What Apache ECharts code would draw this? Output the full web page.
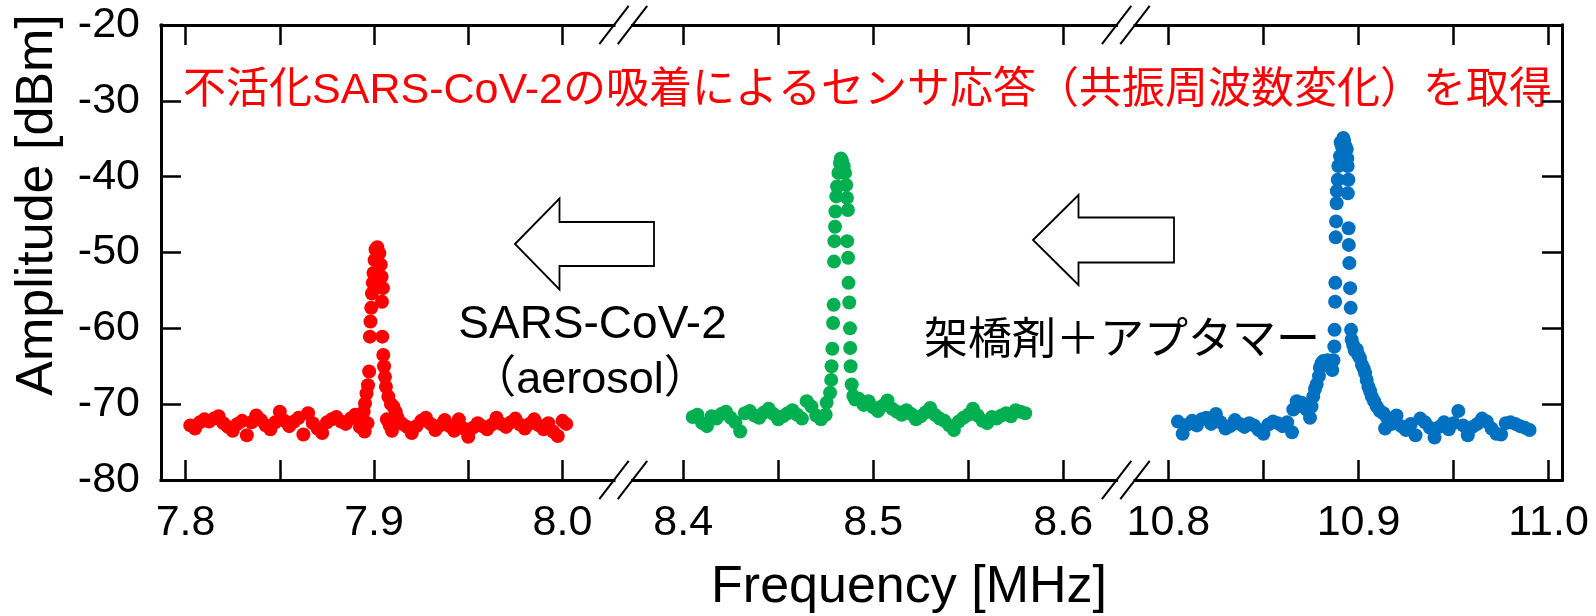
<!DOCTYPE html>
<html>
<head>
<meta charset="utf-8">
<script src="https://cdn.jsdelivr.net/npm/echarts@6/dist/echarts.min.js"></script>
<style>
html, body { margin: 0; padding: 0; background: #ffffff; }
#chart { width: 1596px; height: 616px; }
</style>
</head>
<body>
<div id="chart"></div>
<script>
// 不活化SARS-CoV-2 (赤)
const redFreq = [
  7.8025, 7.8050, 7.8075, 7.8100, 7.8125, 7.8150, 7.8175, 7.8200, 7.8225, 7.8250,
  7.8275, 7.8300, 7.8325, 7.8350, 7.8375, 7.8400, 7.8425, 7.8450, 7.8475, 7.8500,
  7.8525, 7.8550, 7.8575, 7.8600, 7.8625, 7.8650, 7.8675, 7.8700, 7.8725, 7.8750,
  7.8775, 7.8800, 7.8825, 7.8850, 7.8875, 7.8900, 7.8925,
  7.8940, 7.8945, 7.8950, 7.8952, 7.8960, 7.8965, 7.8968, 7.8974, 7.8978, 7.8981,
  7.8985, 7.8989, 7.8993, 7.8997, 7.9003, 7.9008, 7.9017, 7.9028, 7.9036, 7.9040,
  7.9042, 7.9044, 7.9047, 7.9049, 7.9053, 7.9058, 7.9063, 7.9068, 7.9076, 7.9083,
  7.9090, 7.9095, 7.9102, 7.9115,
  7.9125, 7.9150, 7.9175, 7.9200, 7.9225, 7.9250, 7.9275, 7.9300, 7.9325, 7.9350,
  7.9375, 7.9400, 7.9425, 7.9450, 7.9475, 7.9500, 7.9525, 7.9550, 7.9575, 7.9600,
  7.9625, 7.9650, 7.9675, 7.9700, 7.9725, 7.9750, 7.9775, 7.9800, 7.9825, 7.9850,
  7.9875, 7.9900, 7.9925, 7.9950, 7.9975, 8.0000, 8.0020
];
const redAmp = [
  -72.8, -73.2, -72.4, -72.0, -72.3, -71.9, -71.6, -72.5, -73.0, -73.5,
  -72.6, -72.2, -74.1, -72.4, -71.5, -72.1, -72.8, -73.3, -72.4, -71.0,
  -72.2, -72.9, -72.3, -71.8, -74.0, -71.2, -72.5, -73.2, -73.8, -72.4,
  -72.0, -71.7, -72.3, -72.6, -71.9, -71.4, -73.0,
  -72.0, -71.0, -73.6, -69.9, -68.6, -72.5, -67.5, -65.7, -61.1, -59.1,
  -57.3, -55.4, -54.0, -52.7, -51.0, -49.6, -49.3, -50.1, -51.6, -53.2,
  -56.5, -61.1, -54.7, -63.5, -65.0, -66.4, -67.7, -72.0, -69.0, -72.8,
  -70.0, -73.5, -70.3, -71.0,
  -71.8, -72.6, -73.0, -73.8, -72.9, -72.2, -71.8, -72.6, -73.4, -72.8,
  -72.1, -72.9, -73.5, -72.0, -73.2, -74.3, -73.1, -72.5, -72.9, -73.3,
  -72.7, -71.8, -72.6, -73.0, -72.4, -71.9, -72.7, -73.2, -72.6, -72.0,
  -72.8, -73.3, -72.5, -73.6, -74.2, -72.2, -72.6
];

// 架橋剤＋アプタマー固定後 (緑)
const greenFreq = [
  8.4050, 8.4075, 8.4100, 8.4125, 8.4150, 8.4175, 8.4200, 8.4225, 8.4250, 8.4275,
  8.4300, 8.4325, 8.4350, 8.4375, 8.4400, 8.4425, 8.4450, 8.4475, 8.4500, 8.4525,
  8.4550, 8.4575, 8.4600, 8.4625, 8.4650, 8.4675, 8.4700, 8.4725, 8.4750,
  8.4755, 8.4773, 8.4779, 8.4781, 8.4785, 8.4789, 8.4792, 8.4794, 8.4796, 8.4799,
  8.4801, 8.4806, 8.4810, 8.4817, 8.4825, 8.4830, 8.4836,
  8.4845, 8.4852, 8.4858, 8.4862, 8.4867, 8.4863, 8.4868, 8.4870, 8.4874, 8.4878,
  8.4879, 8.4881, 8.4887, 8.4895, 8.4905,
  8.4925, 8.4950, 8.4975, 8.5000, 8.5025, 8.5050, 8.5075, 8.5100, 8.5125, 8.5150,
  8.5175, 8.5200, 8.5225, 8.5250, 8.5275, 8.5300, 8.5325, 8.5350, 8.5375, 8.5400,
  8.5425, 8.5450, 8.5475, 8.5500, 8.5525, 8.5550, 8.5575, 8.5600, 8.5625, 8.5650,
  8.5675, 8.5700, 8.5725, 8.5750, 8.5775, 8.5800
];
const greenAmp = [
  -71.7, -71.4, -72.5, -72.9, -71.6, -71.9, -71.3, -71.0, -71.8, -72.4,
  -73.6, -71.2, -70.9, -71.5, -71.8, -71.1, -70.6, -71.3, -72.0, -71.6,
  -71.2, -70.8, -71.4, -71.9, -69.6, -70.3, -71.5, -72.0, -71.4,
  -69.8, -68.5, -66.8, -65.0, -62.7, -59.3, -56.9, -51.2, -48.5, -46.6,
  -44.6, -42.6, -41.3, -39.5, -38.2, -37.6, -37.9,
  -38.6, -39.5, -41.1, -42.8, -44.4, -48.5, -50.7, -54.0, -56.6, -60.0,
  -62.6, -65.0, -67.4, -68.9, -69.4,
  -69.3, -70.1, -69.6, -70.4, -70.9, -70.2, -69.5, -70.6, -71.0, -71.4,
  -70.8, -71.3, -72.0, -71.6, -71.1, -70.5, -71.4, -71.9, -72.2, -72.8,
  -73.4, -72.3, -71.8, -71.4, -70.6, -71.5, -72.2, -72.5, -71.7, -71.9,
  -71.5, -71.2, -71.6, -70.8, -71.0, -71.2
];

// 初期状態 (青)
const blueFreq = [
  10.8050, 10.8075, 10.8100, 10.8125, 10.8150, 10.8175, 10.8200, 10.8225, 10.8250, 10.8275,
  10.8300, 10.8325, 10.8350, 10.8375, 10.8400, 10.8425, 10.8450, 10.8475, 10.8500, 10.8525,
  10.8550, 10.8575, 10.8600, 10.8625, 10.8650,
  10.8657, 10.8675, 10.8688, 10.8701, 10.8714, 10.8727, 10.8745, 10.8753, 10.8762, 10.8771,
  10.8780, 10.8792, 10.8797, 10.8806, 10.8815, 10.8824, 10.8837, 10.8850, 10.8862, 10.8868,
  10.8873, 10.8874, 10.8877, 10.8878, 10.8880, 10.8882, 10.8885, 10.8886, 10.8891, 10.8894,
  10.8903, 10.8906, 10.8912, 10.8920, 10.8925, 10.8932, 10.8938, 10.8941, 10.8943, 10.8944,
  10.8947, 10.8948, 10.8949, 10.8952, 10.8956, 10.8959, 10.8961, 10.8964, 10.8972, 10.8980,
  10.8991, 10.8999, 10.9008, 10.9018, 10.9027, 10.9035, 10.9043, 10.9052, 10.9061, 10.9070,
  10.9082, 10.9096, 10.9113, 10.9131, 10.9140,
  10.9150, 10.9175, 10.9200, 10.9225, 10.9250, 10.9275, 10.9300, 10.9325, 10.9350, 10.9375,
  10.9400, 10.9425, 10.9450, 10.9475, 10.9500, 10.9525, 10.9550, 10.9575, 10.9600, 10.9625,
  10.9650, 10.9675, 10.9700, 10.9725, 10.9750, 10.9775, 10.9800, 10.9825, 10.9850, 10.9875,
  10.9900
];
const blueAmp = [
  -72.3, -73.9, -72.7, -72.2, -72.8, -72.0, -71.8, -72.6, -71.3, -72.4,
  -73.2, -72.9, -72.1, -72.6, -73.0, -72.5, -72.8, -73.4, -73.9, -72.7,
  -72.3, -72.5, -72.9, -72.4, -73.7,
  -70.7, -69.6, -70.2, -69.8, -70.4, -70.7, -71.8, -70.3, -69.0, -68.0,
  -67.4, -66.3, -65.2, -64.6, -64.3, -64.4, -64.2, -64.8, -65.5, -64.2,
  -62.4, -60.2, -56.5, -54.0, -48.0, -45.9, -43.5, -41.9, -40.4, -38.6,
  -37.3, -35.5, -36.0, -34.9, -35.3, -36.0, -36.4, -37.6, -38.6, -42.2,
  -40.4, -46.8, -49.0, -51.4, -54.7, -57.3, -60.2, -61.5, -62.2, -62.9,
  -62.8, -63.5, -63.9, -64.8, -65.3, -65.9, -66.8, -67.7, -68.3, -69.0,
  -69.6, -70.3, -70.9, -71.2, -73.2,
  -71.8, -72.6, -71.5, -72.9, -73.4, -72.6, -74.1, -71.9, -72.4, -73.1,
  -74.4, -73.0, -72.4, -73.3, -72.5, -70.9, -72.8, -74.1, -73.0, -72.6,
  -71.9, -72.3, -73.2, -73.9, -74.0, -72.5, -72.4, -72.6, -72.9, -73.1,
  -73.4
];

// 軸目盛
const freqTicks = [
  [7.8, 7.85, 7.9, 7.95, 8.0],
  [8.4, 8.45, 8.5, 8.55, 8.6],
  [10.8, 10.85, 10.9, 10.95, 11.0]
];
const freqLabels = [
  [7.8, 7.9, 8.0],
  [8.4, 8.5, 8.6],
  [10.8, 10.9, 11.0]
];
const ampMin = -80;
const ampMax = -20;
const ampStep = 10;

const titleText = '不活化SARS-CoV-2の吸着によるセンサ応答（共振周波数変化）を取得';
const virusText = 'SARS-CoV-2';
const aerosolText = '（aerosol）';
const linkerText = '架橋剤＋アプタマー';
const xName = 'Frequency [MHz]';
const yName = 'Amplitude [dBm]';

// レイアウト (px)
const FONT = "'Liberation Sans', Arial, 'Noto Sans CJK JP', sans-serif";
const PLOT_TOP = 25;
const PLOT_BOTTOM = 480;
const segs = [
  { left: 161, right: 614, min: 7.78695, max: 8.02733 },
  { left: 632.5, right: 1116.6, min: 8.37332, max: 8.62811 },
  { left: 1135, right: 1562, min: 10.78243, max: 11.00705 }
];
const lineStyle = { color: '#000000', width: 3, cap: 'square' };
const tickStyle = { color: '#000000', width: 2.5 };

const chart = echarts.init(document.getElementById('chart'));

function freqAxis(i, pos) {
    const s = segs[i];
    return {
        type: 'value',
        gridIndex: i,
        position: pos,
        min: s.min,
        max: s.max,
        axisLine: { show: true, onZero: false, lineStyle: lineStyle },
        axisTick: { show: true, inside: true, length: 20, customValues: freqTicks[i], lineStyle: tickStyle },
        axisLabel: {
            show: pos === 'bottom',
            customValues: freqLabels[i],
            formatter: (v) => Number(v).toFixed(1),
            color: '#000000',
            fontFamily: FONT,
            fontSize: 43,
            margin: 22,
        },
        splitLine: { show: false },
    };
}

function ampAxis(i, pos, visible) {
    return {
        type: 'value',
        gridIndex: i,
        position: pos,
        show: visible,
        min: ampMin,
        max: ampMax,
        interval: ampStep,
        axisLine: { show: true, onZero: false, lineStyle: lineStyle },
        axisTick: { show: true, inside: true, length: 20, lineStyle: tickStyle },
        axisLabel: {
            show: pos === 'left',
            color: '#000000',
            fontFamily: FONT,
            fontSize: 43,
            margin: 21,
        },
        splitLine: { show: false },
    };
}

function scatter(freq, amp, color, i) {
    return {
        type: 'scatter',
        xAxisIndex: i,
        yAxisIndex: i,
        data: freq.map((f, k) => [f, amp[k]]),
        symbolSize: 14,
        itemStyle: { color: color, opacity: 1 },
        silent: true,
    };
}

// 軸の省略記号 (//)
function breakMarks(xa, xb) {
    const out = [];
    [PLOT_TOP, PLOT_BOTTOM].forEach((y) => {
        [xa, xb].forEach((x) => {
            out.push({
                type: 'line',
                shape: { x1: x - 14.7, y1: y + 19.2, x2: x + 14.7, y2: y - 19.2 },
                style: { stroke: '#000000', lineWidth: 2 },
            });
        });
    });
    return out;
}

// 白抜き矢印 (左向き)
function arrow(tx, ty, hb, headHalf, shaftHalf, tail) {
    return {
        type: 'polygon',
        shape: {
            points: [
                [tx, ty], [hb, ty - headHalf], [hb, ty - shaftHalf], [tail, ty - shaftHalf],
                [tail, ty + shaftHalf], [hb, ty + shaftHalf], [hb, ty + headHalf]
            ]
        },
        style: { fill: '#ffffff', stroke: '#000000', lineWidth: 1.8 },
    };
}

function label(text, x, y, size, color, align, rotation) {
    return {
        type: 'text',
        x: x,
        y: y,
        rotation: rotation || 0,
        style: {
            text: text,
            fill: color,
            font: size + 'px ' + FONT,
            align: align,
            textAlign: align,
            verticalAlign: 'middle',
            textVerticalAlign: 'middle',
        },
    };
}

const option = {
    animation: false,
    backgroundColor: '#ffffff',
    grid: segs.map((s) => ({
        left: s.left,
        top: PLOT_TOP,
        width: s.right - s.left,
        height: PLOT_BOTTOM - PLOT_TOP,
    })),
    xAxis: [
        freqAxis(0, 'bottom'), freqAxis(1, 'bottom'), freqAxis(2, 'bottom'),
        freqAxis(0, 'top'), freqAxis(1, 'top'), freqAxis(2, 'top'),
    ],
    yAxis: [
        ampAxis(0, 'left', true),
        ampAxis(1, 'left', false),
        ampAxis(2, 'right', true),
    ],
    series: [
        scatter(redFreq, redAmp, '#ff0000', 0),
        scatter(greenFreq, greenAmp, '#00b050', 1),
        scatter(blueFreq, blueAmp, '#0070c0', 2),
    ],
    graphic: [
        ...breakMarks(segs[0].right, segs[1].left),
        ...breakMarks(segs[1].right, segs[2].left),
        arrow(515, 244, 559.5, 45.5, 22, 654),
        arrow(1033, 240, 1078.5, 45, 22.5, 1174),
        label(titleText, 867.5, 91, 43, '#ff0000', 'center'),
        label(virusText, 592.5, 325, 46, '#000000', 'center'),
        label(aerosolText, 590, 381, 45, '#000000', 'center'),
        label(linkerText, 924, 342, 44, '#000000', 'left'),
        label(xName, 909, 588, 52, '#000000', 'center'),
        label(yName, 38, 205, 52, '#000000', 'center', Math.PI / 2),
    ],
};

chart.setOption(option);
</script>
</body>
</html>
